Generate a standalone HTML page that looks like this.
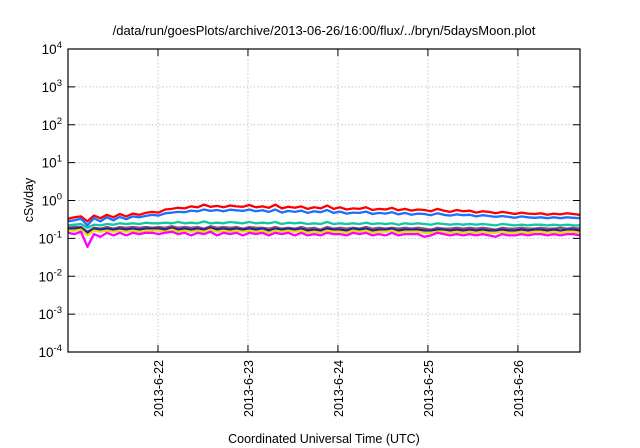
<!DOCTYPE html>
<html><head><meta charset="utf-8"><style>
body{margin:0;background:#fff}
svg{display:block;font-family:"Liberation Sans",sans-serif}
</style></head><body>
<svg id="chart" width="640" height="448">
<text x="324" y="35" font-size="13" text-anchor="middle">/data/run/goesPlots/archive/2013-06-26/16:00/flux/../bryn/5daysMoon.plot</text>
<text transform="translate(33,200) rotate(-90)" font-size="12.5" text-anchor="middle">cSv/day</text>
<text x="324" y="443" font-size="12.5" text-anchor="middle">Coordinated Universal Time (UTC)</text>
<g id="grid"></g><g id="series"></g><g id="axes"></g>
</svg>
<script>
const yExponents=[-4,-3,-2,-1,0,1,2,3,4];
const xTickDays=[1,2,3,4,5];
const xTickLabels=["2013-6-22","2013-6-23","2013-6-24","2013-6-25","2013-6-26"];
const times=[0,0.072,0.144,0.216,0.288,0.36,0.432,0.504,0.576,0.648,0.72,0.792,0.864,0.936,1.008,1.08,1.152,1.224,1.296,1.368,1.44,1.512,1.584,1.656,1.728,1.8,1.872,1.944,2.016,2.088,2.16,2.232,2.304,2.376,2.448,2.52,2.592,2.664,2.736,2.808,2.88,2.952,3.024,3.096,3.168,3.24,3.312,3.384,3.456,3.528,3.6,3.672,3.744,3.816,3.888,3.96,4.032,4.104,4.176,4.248,4.32,4.392,4.464,4.536,4.608,4.68,4.752,4.824,4.896,4.968,5.04,5.112,5.184,5.256,5.328,5.4,5.472,5.544,5.616,5.69];
const seriesNames=["red","blue","teal","purple","navy","yellow","magenta"];
const seriesColors=["#ff0000","#1a70ff","#10c8a0","#9a4a7a","#2020a0","#e8e000","#ff00ff"];
const red=[0.33,0.36,0.38,0.28,0.40,0.34,0.42,0.36,0.44,0.38,0.45,0.42,0.47,0.50,0.48,0.58,0.60,0.64,0.62,0.70,0.66,0.78,0.68,0.72,0.66,0.74,0.70,0.68,0.76,0.66,0.70,0.64,0.78,0.62,0.68,0.64,0.70,0.60,0.66,0.62,0.74,0.60,0.66,0.58,0.62,0.60,0.66,0.56,0.60,0.58,0.64,0.55,0.60,0.54,0.58,0.56,0.52,0.60,0.54,0.50,0.56,0.52,0.54,0.48,0.52,0.50,0.46,0.50,0.47,0.44,0.48,0.45,0.44,0.46,0.42,0.45,0.43,0.46,0.44,0.42];
const blue=[0.28,0.30,0.33,0.22,0.34,0.28,0.36,0.30,0.37,0.32,0.38,0.36,0.39,0.42,0.40,0.46,0.48,0.50,0.49,0.54,0.52,0.58,0.53,0.56,0.52,0.57,0.55,0.53,0.58,0.52,0.55,0.50,0.58,0.48,0.53,0.50,0.54,0.47,0.52,0.49,0.56,0.47,0.51,0.45,0.48,0.47,0.51,0.44,0.47,0.45,0.49,0.43,0.47,0.42,0.45,0.44,0.41,0.46,0.42,0.40,0.43,0.41,0.42,0.38,0.41,0.39,0.37,0.39,0.37,0.35,0.38,0.36,0.35,0.36,0.34,0.36,0.34,0.36,0.35,0.34];
const teal=[0.22,0.23,0.24,0.19,0.23,0.22,0.24,0.23,0.25,0.24,0.25,0.24,0.26,0.25,0.25,0.26,0.25,0.27,0.25,0.26,0.25,0.28,0.25,0.26,0.25,0.27,0.26,0.25,0.27,0.25,0.26,0.25,0.27,0.24,0.26,0.25,0.26,0.24,0.25,0.24,0.27,0.24,0.25,0.24,0.25,0.24,0.26,0.24,0.25,0.24,0.25,0.23,0.25,0.24,0.25,0.24,0.23,0.25,0.24,0.23,0.24,0.23,0.24,0.23,0.24,0.23,0.22,0.24,0.23,0.22,0.23,0.22,0.23,0.23,0.22,0.23,0.22,0.23,0.22,0.22];
const purple=[0.19,0.20,0.20,0.15,0.19,0.18,0.20,0.18,0.20,0.19,0.20,0.19,0.20,0.19,0.20,0.19,0.21,0.19,0.20,0.19,0.20,0.18,0.21,0.19,0.20,0.19,0.20,0.18,0.20,0.19,0.19,0.18,0.20,0.18,0.19,0.18,0.20,0.18,0.19,0.17,0.20,0.18,0.19,0.18,0.19,0.18,0.20,0.18,0.19,0.18,0.19,0.18,0.19,0.18,0.19,0.18,0.17,0.19,0.18,0.18,0.19,0.18,0.19,0.18,0.19,0.18,0.17,0.19,0.18,0.18,0.19,0.18,0.18,0.19,0.18,0.18,0.19,0.18,0.19,0.18];
const navy=[0.18,0.18,0.19,0.14,0.18,0.17,0.18,0.17,0.18,0.17,0.18,0.17,0.18,0.18,0.18,0.17,0.19,0.17,0.18,0.17,0.18,0.17,0.19,0.17,0.18,0.17,0.18,0.17,0.18,0.17,0.18,0.16,0.18,0.17,0.18,0.17,0.18,0.16,0.17,0.16,0.18,0.17,0.17,0.16,0.18,0.17,0.18,0.16,0.17,0.17,0.18,0.16,0.17,0.17,0.17,0.16,0.16,0.17,0.17,0.16,0.17,0.16,0.17,0.16,0.17,0.16,0.16,0.17,0.16,0.16,0.17,0.16,0.17,0.17,0.16,0.17,0.16,0.17,0.17,0.16];
const yellow=[0.16,0.16,0.17,0.12,0.16,0.15,0.16,0.15,0.16,0.15,0.16,0.15,0.16,0.16,0.16,0.15,0.17,0.15,0.16,0.15,0.16,0.15,0.17,0.15,0.16,0.15,0.16,0.15,0.16,0.15,0.16,0.14,0.16,0.15,0.16,0.15,0.16,0.14,0.15,0.14,0.16,0.15,0.15,0.14,0.16,0.15,0.16,0.14,0.15,0.15,0.16,0.14,0.15,0.15,0.15,0.14,0.14,0.15,0.15,0.14,0.15,0.14,0.15,0.14,0.15,0.14,0.14,0.15,0.14,0.14,0.15,0.14,0.15,0.15,0.14,0.15,0.14,0.15,0.15,0.14];
const magenta=[0.14,0.13,0.15,0.06,0.13,0.11,0.14,0.12,0.14,0.12,0.14,0.13,0.14,0.14,0.13,0.14,0.15,0.13,0.14,0.12,0.14,0.13,0.15,0.12,0.14,0.13,0.14,0.12,0.14,0.13,0.14,0.12,0.14,0.13,0.14,0.12,0.14,0.12,0.13,0.12,0.14,0.13,0.13,0.12,0.14,0.13,0.14,0.12,0.13,0.12,0.14,0.12,0.13,0.13,0.13,0.11,0.12,0.14,0.13,0.12,0.13,0.12,0.13,0.12,0.13,0.12,0.11,0.13,0.12,0.12,0.13,0.12,0.13,0.13,0.12,0.13,0.12,0.13,0.13,0.12];
const seriesData=[red,blue,teal,purple,navy,yellow,magenta];

const L=68,R=580,T=49,B=352,X0=0,X1=5.69,Y0=-4,Y1=4;
const NS="http://www.w3.org/2000/svg";
function xs(d){return L+(d-X0)/(X1-X0)*(R-L);}
function ys(v){return B-(Math.log10(v)-Y0)/(Y1-Y0)*(B-T);}
function ye(e){return B-(e-Y0)/(Y1-Y0)*(B-T);}
function mk(tag,attrs,parent){const e=document.createElementNS(NS,tag);for(const k in attrs)e.setAttribute(k,attrs[k]);parent.appendChild(e);return e;}
const grid=document.getElementById('grid'),axes=document.getElementById('axes'),sg=document.getElementById('series');
yExponents.forEach(e=>{
  const y=ye(e);
  if(e>Y0&&e<Y1){const g=mk('line',{x1:L,x2:R,y1:y,y2:y,stroke:'#c8c8c8','stroke-dasharray':'1.5,2','stroke-width':1},grid);
  
  }
  const t1=mk('line',{x1:L,x2:L+7,y1:y,y2:y,stroke:'#000'},axes);
  
  
  const t2=mk('line',{x1:R-7,x2:R,y1:y,y2:y,stroke:'#000'},axes);
  
  
  const tx=mk('text',{x:L-6,y:y+5,'font-size':13.5,'text-anchor':'end'},axes);
  
  
  tx.innerHTML='10<tspan dy="-6" font-size="9.5">'+e+'</tspan>';
});
xTickDays.forEach((d,i)=>{
  const x=xs(d);
  const g=mk('line',{x1:x,x2:x,y1:T,y2:B,stroke:'#c8c8c8','stroke-dasharray':'1.5,2'},grid);
  
  
  const t=mk('line',{x1:x,x2:x,y1:B-7,y2:B,stroke:'#000'},axes);
  
  
  const t2=mk('line',{x1:x,x2:x,y1:T,y2:T+7,stroke:'#000'},axes);
  
  
  const tx=mk('text',{transform:'translate('+(x+5)+',360) rotate(-90)','font-size':12.5,'text-anchor':'end'},axes);
  
  
  tx.textContent=xTickLabels[i];
});
const frame=mk('rect',{x:L,y:T,width:R-L,height:B-T,fill:'none',stroke:'#000','stroke-width':1.2},axes);


seriesData.forEach((arr,si)=>{
  const pts=arr.map((v,i)=>xs(times[i]).toFixed(1)+','+ys(v).toFixed(1)).join(' ');
  const p=mk('polyline',{points:pts,fill:'none',stroke:seriesColors[si],'stroke-width':2.3,'stroke-linejoin':'round'},sg);
  
  
});
</script>
</body></html>
